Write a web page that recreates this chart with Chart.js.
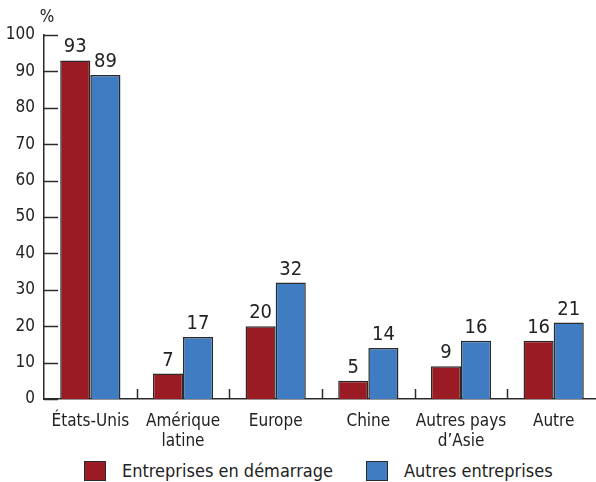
<!DOCTYPE html>
<html lang="fr">
<head>
<meta charset="utf-8">
<script src="https://cdn.jsdelivr.net/npm/chart.js@4.4.0/dist/chart.umd.min.js"></script>
<style>
  html, body { margin: 0; padding: 0; background: #fff; overflow: hidden; }
  #wrap { position: relative; width: 600px; height: 452px; }
  #legend { position: absolute; top: 460px; left: 0; width: 596px; height: 22px;
    font-family: "DejaVu Sans Condensed", "DejaVu Sans", sans-serif; font-size: 18px; color: #222; }
  .item { position: absolute; top: 0; display: flex; align-items: center; }
  .box { width: 20px; height: 18px; border: 1.5px solid #2a2a2a; margin-right: 16px; }
</style>
</head>
<body>
<div id="wrap"><canvas id="chart" width="600" height="452"></canvas></div>
<div id="legend"></div>
<script>
// Catégories et valeurs (%)
const categories = ['États-Unis', ['Amérique', 'latine'], 'Europe', 'Chine', ['Autres pays', 'd\u2019Asie'], 'Autre'];
const startups = [93, 7, 20, 5, 9, 16];
const autres = [89, 17, 32, 14, 16, 21];
const seriesNames = ['Entreprises en démarrage', 'Autres entreprises'];
const yTicks = [0, 10, 20, 30, 40, 50, 60, 70, 80, 90, 100];

const RED = '#9a1b23';
const BLUE = '#3f7cc1';
const INK = '#2a2a2a';
const FONT = '"DejaVu Sans Condensed", "DejaVu Sans", sans-serif';

// Légende HTML sous le graphique
const legendEl = document.getElementById('legend');
[[seriesNames[0], RED, 84], [seriesNames[1], BLUE, 366]].forEach(([txt, col, left]) => {
  const d = document.createElement('div');
  d.className = 'item';
  d.style.left = left + 'px';
  d.innerHTML = `<span class="box" style="background:${col}"></span><span>${txt}</span>`;
  legendEl.appendChild(d);
});

// Ticks intérieurs, étiquettes de valeurs et le "%"
const decor = {
  id: 'decor',
  afterDatasetsDraw(chart) {
    const { ctx, scales: { x, y }, chartArea } = chart;
    ctx.save();
    ctx.strokeStyle = INK;
    ctx.lineWidth = 1.5;
    // ticks de l'axe Y vers l'intérieur
    yTicks.forEach(v => {
      const py = Math.round(y.getPixelForValue(v)) + 0.5;
      ctx.beginPath();
      ctx.moveTo(chartArea.left, py);
      ctx.lineTo(chartArea.left + 14, py);
      ctx.stroke();
    });
    // séparateurs entre catégories
    for (let i = 0; i < categories.length; i++) {
      const px = Math.round((x.getPixelForValue(i) + x.getPixelForValue(i + 1)) / 2) + 0.5;
      ctx.beginPath();
      ctx.moveTo(px, chartArea.bottom);
      ctx.lineTo(px, chartArea.bottom - 10);
      ctx.stroke();
    }
    // valeurs au-dessus des barres
    ctx.fillStyle = '#222';
    ctx.font = '20px ' + FONT;
    ctx.textAlign = 'center';
    ctx.textBaseline = 'alphabetic';
    chart.data.datasets.forEach((ds, di) => {
      chart.getDatasetMeta(di).data.forEach((bar, i) => {
        ctx.fillText(ds.data[i], bar.x, bar.y - 8);
      });
    });
    // unité
    ctx.font = '17px ' + FONT;
    ctx.textAlign = 'center';
    ctx.fillText('%', chartArea.left + 3, chartArea.top - 13);
    ctx.restore();
  }
};

new Chart(document.getElementById('chart'), {
  type: 'bar',
  data: {
    labels: categories,
    datasets: [
      { label: seriesNames[0], data: startups, backgroundColor: RED, borderColor: INK, borderWidth: 1.5 },
      { label: seriesNames[1], data: autres, backgroundColor: BLUE, borderColor: INK, borderWidth: 1.5 }
    ]
  },
  options: {
    responsive: false,
    animation: false,
    devicePixelRatio: 1,
    layout: { padding: { top: 35, left: 0, right: 0, bottom: 0 } },
    categoryPercentage: 0.65,
    barPercentage: 1,
    scales: {
      x: {
        grid: { display: false, drawTicks: false },
        border: { color: INK, width: 1.5 },
        ticks: { color: '#222', font: { family: FONT, size: 17 }, padding: 12, maxRotation: 0, autoSkip: false },
        afterFit: s => { s.height = 53; }
      },
      y: {
        min: 0,
        max: 100,
        grid: { display: false, drawTicks: false },
        border: { color: INK, width: 1.5 },
        ticks: { stepSize: 10, color: '#222', font: { family: FONT, size: 17 }, padding: 9 },
        afterFit: s => { s.width = 44; }
      }
    },
    plugins: {
      legend: { display: false },
      tooltip: { enabled: false }
    }
  },
  plugins: [decor]
});
</script>
</body>
</html>
